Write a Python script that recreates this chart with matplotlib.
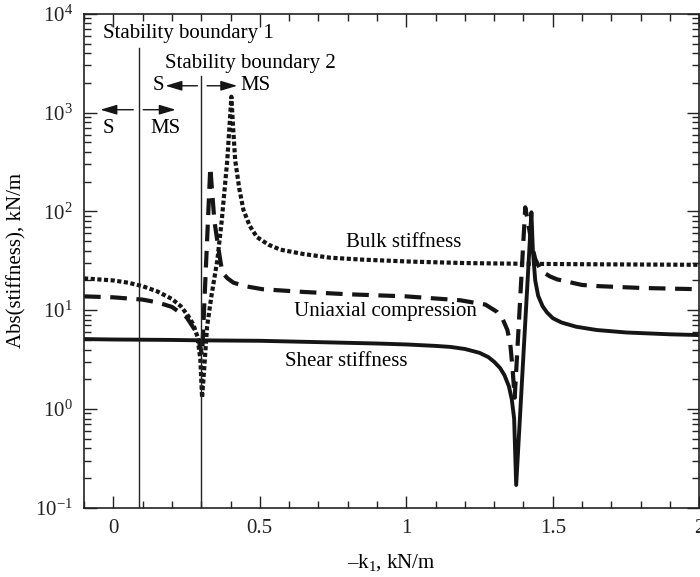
import numpy as np
import matplotlib
matplotlib.use("Agg")
import matplotlib.pyplot as plt
from matplotlib.ticker import LogLocator, NullFormatter, MultipleLocator, FixedLocator

plt.rcParams['font.family'] = ['Liberation Serif', 'DejaVu Serif']
plt.rcParams['mathtext.fontset'] = 'custom'
plt.rcParams['mathtext.rm'] = 'Liberation Serif'
plt.rcParams['mathtext.it'] = 'Liberation Serif:italic'

# bulk stiffness (dotted)
bulk_x = [-0.1, 0.0, 0.05, 0.1, 0.15, 0.2, 0.23, 0.255, 0.273, 0.287, 0.297, 0.303,
          0.31, 0.32, 0.335, 0.355, 0.37, 0.389, 0.403, 0.409, 0.416, 0.43, 0.444,
          0.465, 0.49, 0.53, 0.57, 0.65, 0.74, 0.85, 1.02, 1.2, 1.4, 1.6, 1.8, 2.0]
bulk_y = [21, 20, 19, 17.5, 15.5, 13, 11, 8.8, 7.2, 5.4, 3.2, 1.3,
          2.5, 6.8, 14, 32, 80, 330, 1450, 700, 330, 170, 104,
          72, 55, 46, 41, 37, 34, 32.5, 31, 30, 29.5, 29.2, 29, 28.8]

# uniaxial compression (dashed)
uni_x = [-0.1, 0.0, 0.1, 0.15, 0.2, 0.25, 0.28, 0.295, 0.303, 0.331, 0.345, 0.36,
         0.372, 0.39, 0.41, 0.45, 0.51, 0.65, 0.8, 1.0, 1.184, 1.27, 1.31, 1.33,
         1.345, 1.355, 1.362, 1.37, 1.406, 1.418, 1.43, 1.44, 1.457, 1.47, 1.49,
         1.515, 1.6, 1.66, 1.8, 2.0]
uni_y = [13.8, 13.5, 12.8, 12, 10.8, 8.5, 6.2, 4.5, 3.5, 280, 80, 40,
         24, 21, 19, 17.5, 16.3, 15.3, 14.5, 13.8, 12.6, 11.4, 9.6, 8.0,
         6.3, 4.5, 2.7, 1.3, 110, 70, 44, 33, 26, 24, 22,
         20.5, 18, 17.5, 16.8, 16.3]

# shear stiffness (solid)
shear_x = [-0.1, 0.0, 0.2, 0.3, 0.5, 0.7, 0.9, 1.0, 1.1, 1.15, 1.2, 1.25, 1.28,
           1.3, 1.32, 1.335, 1.35, 1.36, 1.368, 1.375, 1.427, 1.432, 1.44, 1.45,
           1.465, 1.48, 1.5, 1.53, 1.58, 1.65, 1.75, 1.9, 2.0]
shear_y = [5.1, 5.05, 5.0, 4.95, 4.9, 4.75, 4.6, 4.5, 4.35, 4.25, 4.05, 3.7, 3.35,
           3.0, 2.6, 2.2, 1.7, 1.25, 0.8, 0.17, 98, 40, 20, 14,
           11, 9.5, 8.3, 7.5, 6.8, 6.3, 5.95, 5.7, 5.6]

boundaries = [0.088, 0.3]
boundary_tops = [4530, 2350]

fig = plt.figure(figsize=(7.0, 5.77), dpi=100)
ax = fig.add_axes([0.12, 0.12, 0.879, 0.856])

ax.plot(bulk_x, bulk_y, color='#151515', lw=3.0, linestyle=(0, (1, 0.6)))
ax.plot(uni_x, uni_y, color='#151515', lw=3.0, linestyle=(0, (4, 2.3)))
ax.plot(shear_x, shear_y, color='#151515', lw=2.8, linestyle='-')

for bx, top in zip(boundaries, boundary_tops):
    ax.plot([bx, bx], [0.1, top], color='#222222', lw=1.0)

ax.set_yscale('log')
ax.set_xlim(-0.1, 2.0)
ax.set_ylim(0.1, 1e4)

ax.xaxis.set_major_locator(FixedLocator([0, 0.5, 1, 1.5, 2]))
ax.set_xticklabels(['0', '0.5', '1', '1.5', '2'])
ax.xaxis.set_minor_locator(MultipleLocator(0.1))
ax.yaxis.set_major_locator(LogLocator(base=10, numticks=10))
ax.yaxis.set_minor_locator(LogLocator(base=10, subs=np.arange(2, 10), numticks=20))
ax.yaxis.set_minor_formatter(NullFormatter())

ax.tick_params(which='both', direction='in', top=True, right=True, labelsize=15,
               colors='#222222')
ax.tick_params(which='major', length=9, width=1.0, pad=8)
ax.tick_params(which='minor', length=5, width=1.0)
for s in ax.spines.values():
    s.set_linewidth(1.2)
    s.set_color('#222222')

ax.set_xlabel('\u2013k$_\\mathregular{1}$, kN/m', fontsize=15, labelpad=10)
ax.set_ylabel('Abs(stiffness), kN/m', fontsize=15, labelpad=6)

fs = 15
ax.text(-0.034, 6300, 'Stability boundary 1', fontsize=fs, va='center', ha='left')
ax.text(0.177, 3170, 'Stability boundary 2', fontsize=fs, va='center', ha='left')

arrow = dict(arrowstyle='-|>,head_length=1.0,head_width=0.3', color='#151515', lw=1.0,
             shrinkA=0, shrinkB=0)
# boundary 1 arrows
ax.annotate('', xy=(-0.044, 1070), xytext=(0.068, 1070), arrowprops=arrow)
ax.annotate('', xy=(0.213, 1070), xytext=(0.102, 1070), arrowprops=arrow)
ax.text(-0.037, 690, 'S', fontsize=fs, va='center', ha='left')
ax.text(0.127, 690, 'MS', fontsize=fs, va='center', ha='left')
# boundary 2 arrows
ax.annotate('', xy=(0.178, 1870), xytext=(0.287, 1870), arrowprops=arrow)
ax.annotate('', xy=(0.423, 1870), xytext=(0.320, 1870), arrowprops=arrow)
ax.text(0.133, 1870, 'S', fontsize=fs, va='center', ha='left')
ax.text(0.433, 1870, 'MS', fontsize=fs, va='center', ha='left')

ax.text(0.99, 49, 'Bulk stiffness', fontsize=fs, va='center', ha='center')
ax.text(0.928, 9.8, 'Uniaxial compression', fontsize=fs, va='center', ha='center')
ax.text(0.796, 3.0, 'Shear stiffness', fontsize=fs, va='center', ha='center')

fig.savefig('out.png', dpi=100)
